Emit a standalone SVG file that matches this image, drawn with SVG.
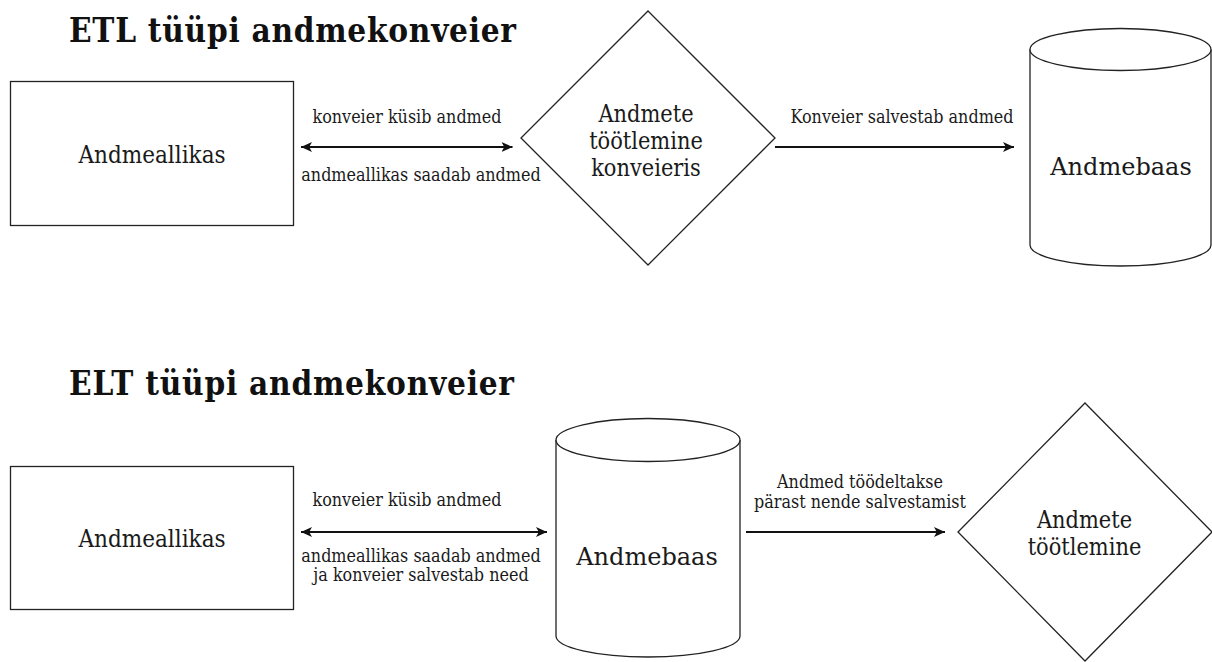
<svg xmlns="http://www.w3.org/2000/svg" width="1212" height="662" viewBox="0 0 1212 662">
<style>
text{font-family:"DejaVu Serif Condensed","DejaVu Serif","Liberation Serif",serif;fill:#1a1a1a;text-anchor:middle}
.title{font-size:33px;font-weight:bold;text-anchor:start;fill:#111}
.node{font-size:24px}
.dia{font-size:23.3px}
.db{font-family:"DejaVu Serif","Liberation Serif",serif;font-size:24px}
.lbl{font-size:17.8px}
.shape{fill:#fff;stroke:#222;stroke-width:1.3}
.conn{fill:none;stroke:#111;stroke-width:1.8}
</style>
<defs>
<marker id="arr" markerUnits="userSpaceOnUse" markerWidth="13" markerHeight="11" refX="11" refY="5" orient="auto-start-reverse">
<path d="M0,0 L11,5 L0,10 L2.8,5 Z" fill="#111"/>
</marker>
</defs>
<text class="title" x="69" y="42" textLength="447" lengthAdjust="spacing">ETL tüüpi andmekonveier</text>
<text class="title" x="69" y="394.5" textLength="445" lengthAdjust="spacing">ELT tüüpi andmekonveier</text>

<g id="etl-source">
<rect class="shape" x="10.5" y="81.5" width="283" height="144"/>
<text class="node" x="152" y="163">Andmeallikas</text>
</g>
<g id="etl-process">
<polygon class="shape" points="648,11 775,138 648,265 521,138"/>
<text class="dia" x="646" y="121.5">Andmete</text>
<text class="dia" x="646" y="148.5">töötlemine</text>
<text class="dia" x="646" y="175.5">konveieris</text>
</g>
<g id="etl-db">
<path class="shape" d="M1030,49.5 L1030,245 A90.5,21 0 0 0 1211,245 L1211,49.5"/>
<ellipse class="shape" cx="1120.5" cy="49.5" rx="90.5" ry="21"/>
<text class="db" x="1121" y="174.5">Andmebaas</text>
</g>

<g id="elt-source">
<rect class="shape" x="10.5" y="466.5" width="283" height="143"/>
<text class="node" x="152" y="547">Andmeallikas</text>
</g>
<g id="elt-db">
<path class="shape" d="M556,440 L556,636 A92,21 0 0 0 740,636 L740,440"/>
<ellipse class="shape" cx="648" cy="440" rx="92" ry="21.5"/>
<text class="db" x="647" y="564.5">Andmebaas</text>
</g>
<g id="elt-process">
<polygon class="shape" points="1085,403 1212,532 1085,661 958,532"/>
<text class="dia" x="1084.5" y="528">Andmete</text>
<text class="dia" x="1084.5" y="555">töötlemine</text>
</g>

<g id="connectors">
<line class="conn" x1="301" y1="147" x2="512.5" y2="147" marker-start="url(#arr)" marker-end="url(#arr)"/>
<text class="lbl" x="407" y="122.5">konveier küsib andmed</text>
<text class="lbl" x="421" y="181">andmeallikas saadab andmed</text>

<line class="conn" x1="775" y1="147" x2="1014" y2="147" marker-end="url(#arr)"/>
<text class="lbl" x="902" y="122.5">Konveier salvestab andmed</text>

<line class="conn" x1="301" y1="532" x2="547" y2="532" marker-start="url(#arr)" marker-end="url(#arr)"/>
<text class="lbl" x="407" y="506">konveier küsib andmed</text>
<text class="lbl" x="421" y="561.5">andmeallikas saadab andmed</text>
<text class="lbl" x="421" y="580.5">ja konveier salvestab need</text>

<line class="conn" x1="746" y1="532" x2="945" y2="532" marker-end="url(#arr)"/>
<text class="lbl" x="860" y="488">Andmed töödeltakse</text>
<text class="lbl" x="860" y="508">pärast nende salvestamist</text>
</g>
</svg>
